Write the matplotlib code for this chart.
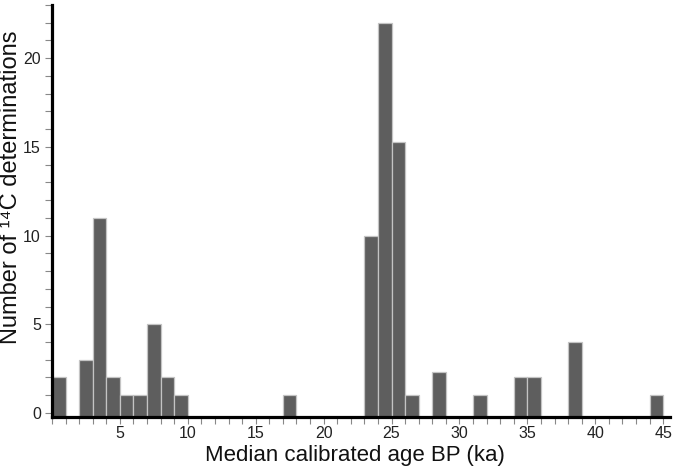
import numpy as np
import matplotlib.pyplot as plt

plt.rcParams['font.family'] = ['Liberation Sans', 'DejaVu Sans']

# histogram bins (ka), 1 ka wide, left edges
bin_left = [0, 2, 3, 4, 5, 6, 7, 8, 9, 17, 23, 24, 25, 26, 28, 31, 34, 35, 38, 44]
counts = [2, 3, 11, 2, 1, 1, 5, 2, 1, 1, 10, 22, 15.25, 1, 2.3, 1, 2, 2, 4, 1]

x_major = [5, 10, 15, 20, 25, 30, 35, 40, 45]
y_major = [0, 5, 10, 15, 20]

y_floor = -0.2  # bars run down to the axis line

fig = plt.figure(figsize=(6.74, 4.70), dpi=100)
ax = fig.add_axes([52 / 674, 53.5 / 470, 618 / 674, 411.5 / 470])

ax.bar(bin_left, np.array(counts) - y_floor, width=1, align='edge',
       bottom=y_floor, color='#5e5e5e', edgecolor='#c4c4c4', linewidth=0.9)

ax.set_xlim(0, 45.5)
ax.set_ylim(y_floor, 23)

ax.set_xticks(x_major)
ax.set_xticks(np.arange(0, 46), minor=True)
ax.set_yticks(y_major)
ax.set_yticks(np.arange(0, 24), minor=True)

for s in ['top', 'right']:
    ax.spines[s].set_visible(False)
for s in ['left', 'bottom']:
    ax.spines[s].set_linewidth(2.3)
    ax.spines[s].set_color('black')
    ax.spines[s].set_zorder(3)

ax.tick_params(which='both', direction='out', length=5, width=0.8,
               color='#888888', labelsize=11.5, labelcolor='#222222')
ax.tick_params(axis='x', pad=2)
ax.tick_params(axis='y', pad=3)

# axis titles placed by hand to match the original layout
fig.text(355 / 674, 14 / 470, 'Median calibrated age BP (ka)', fontsize=16,
         color='#111111', ha='center', va='center')
fig.text(11 / 674, 283 / 470, 'Number of \u00b9\u2074C determinations',
         fontsize=17, color='#111111', rotation=90, ha='center', va='center')

fig.savefig('out.png', dpi=100)
